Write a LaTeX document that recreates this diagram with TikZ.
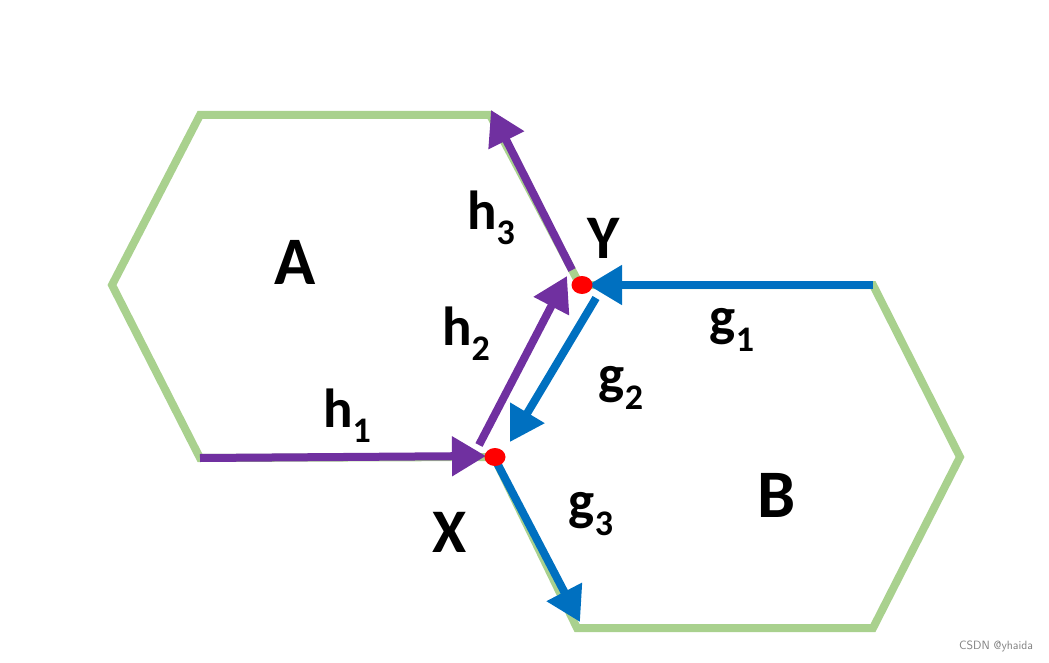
\documentclass[tikz,border=0pt]{standalone}
\usepackage{fontspec}
\setmainfont{Carlito}
\usetikzlibrary{arrows.meta,shapes.geometric}
\definecolor{hexgreen}{RGB}{169,209,142}
\definecolor{hpurple}{RGB}{112,48,160}
\definecolor{gblue}{RGB}{0,112,192}
\newcommand\sublbl[2]{#1\raisebox{-0.28em}{\fontsize{36}{36}\selectfont #2}}
\tikzset{
  hexedge/.style={draw=hexgreen, line width=8pt, line join=miter},
  harrow/.style={draw=hpurple, line width=8pt, -{Triangle[length=34pt,width=38pt]}},
  garrow/.style={draw=gblue, line width=8pt, -{Triangle[length=34pt,width=38pt]}},
  bigl/.style={font=\fontsize{68}{68}\selectfont\bfseries},
  midl/.style={font=\fontsize{62}{62}\selectfont\bfseries},
  subl/.style={font=\fontsize{55}{55}\selectfont\bfseries},
  dot/.style={fill=red, ellipse, minimum width=21pt, minimum height=18pt, inner sep=0pt},
}
\begin{document}
\begin{tikzpicture}[x=1pt,y=-1pt]
\useasboundingbox (0,0) rectangle (1049,663);
% hexagon A
\coordinate (a1) at (200,115);
\coordinate (a2) at (490,115);
\coordinate (Y) at (580,285);
\coordinate (X) at (494,457);
\coordinate (a5) at (200,458);
\coordinate (a6) at (112,285);
% hexagon B
\coordinate (b2) at (873,285);
\coordinate (b3) at (960,457);
\coordinate (b4) at (873,628);
\coordinate (b5) at (577,628);
\draw[hexedge] (Y) -- (a2) -- (a1) -- (a6) -- (a5) -- (X);
\draw[hexedge] (X) -- (b5) -- (b4) -- (b3) -- (b2) -- (Y);
% arrow end points
\coordinate (h1s) at (200,458);
\coordinate (h1e) at (486,456);
\coordinate (h2s) at (479,445);
\coordinate (h2e) at (567,276);
\coordinate (h3s) at (572,270);
\coordinate (h3e) at (491,110);
\coordinate (g1s) at (873,285);
\coordinate (g1e) at (588,285);
\coordinate (g2s) at (596,298);
\coordinate (g2e) at (510,442);
\coordinate (g3s) at (497,463);
\coordinate (g3e) at (580,622);
\draw[harrow] (h1s) -- (h1e);
\draw[harrow] (h2s) -- (h2e);
\draw[harrow] (h3s) -- (h3e);
\draw[garrow] (g1s) -- (g1e);
\draw[garrow] (g2s) -- (g2e);
\draw[garrow] (g3s) -- (g3e);
\node[dot] (dY) at (582,285) {};
\node[dot] (dX) at (495,457) {};
% labels
\node[bigl] (lA) at (295,262) {A};
\node[bigl] (lB) at (777,495) {B};
\node[midl] (lY) at (604,238) {Y};
\node[midl] (lX) at (450,532) {X};
\node[subl] (lh3) at (491,218) {\sublbl{h}{3}};
\node[subl] (lh2) at (466,334) {\sublbl{h}{2}};
\node[subl] (lh1) at (347,416) {\sublbl{h}{1}};
\node[subl] (lg1) at (732,330) {\sublbl{g}{1}};
\node[subl] (lg2) at (621,388) {\sublbl{g}{2}};
\node[subl] (lg3) at (591,514) {\sublbl{g}{3}};
\node[text=gray, font=\fontsize{12}{12}\selectfont\sffamily] (wm) at (996,646) {CSDN @yhaida};
\end{tikzpicture}
\end{document}
